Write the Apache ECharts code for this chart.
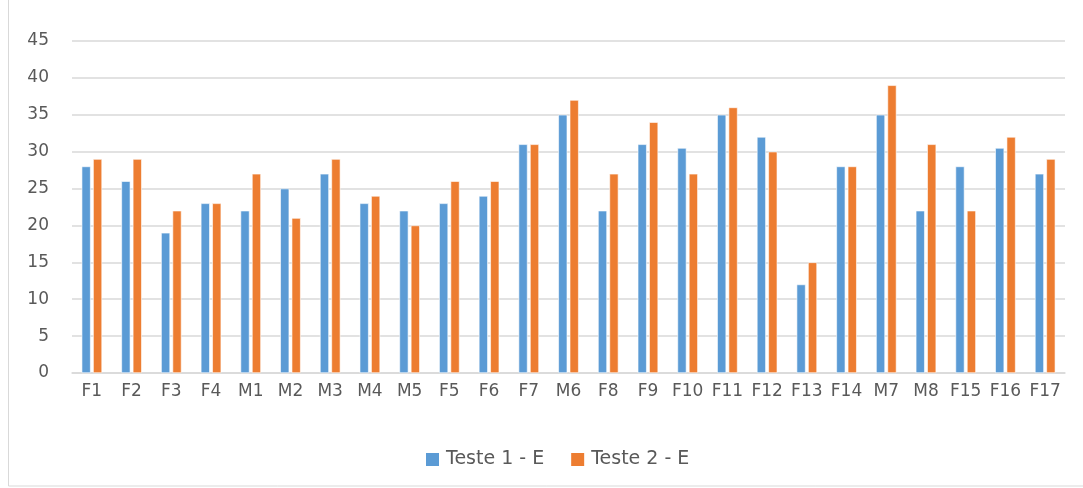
<!DOCTYPE html>
<html>
<head>
<meta charset="utf-8">
<script src="https://cdn.jsdelivr.net/npm/echarts@6/dist/echarts.min.js"></script>
<style>
  html, body { margin: 0; padding: 0; background: #fff; }
  #chart { width: 1083px; height: 488px; }
</style>
</head>
<body>
<div id="chart"></div>
<script>
// Participants on the category axis
const categories = ['F1','F2','F3','F4','M1','M2','M3','M4','M5','F5','F6','F7','M6','F8','F9','F10','F11','F12','F13','F14','M7','M8','F15','F16','F17'];
// Scores per test
const teste1 = [28,26,19,23,22,25,27,23,22,23,24,31,35,22,31,30.5,35,32,12,28,35,22,28,30.5,27];
const teste2 = [29,29,22,23,27,21,29,24,20,26,26,31,37,27,34,27,36,30,15,28,39,31,22,32,29];
// Value axis range
const yMin = 0, yMax = 45, yStep = 5;

const FONT = '"DejaVu Sans", sans-serif';
const TEXT = '#595959';

const chart = echarts.init(document.getElementById('chart'), null, { renderer: 'canvas' });
chart.setOption({
  animation: false,
  backgroundColor: '#fff',
  graphic: [{
    type: 'rect',
    shape: { x: 8.5, y: -2, width: 1090, height: 488 },
    style: { fill: 'none', stroke: '#d9d9d9', lineWidth: 1 },
    silent: true
  }],
  grid: { left: 72, right: 18, top: 41, bottom: 115, containLabel: false },
  legend: {
    top: 450,
    left: 424,
    padding: 0,
    itemWidth: 15,
    itemHeight: 15,
    itemGap: 25,
    icon: 'rect',
    textStyle: { color: TEXT, fontSize: 19, fontFamily: FONT, padding: [0, 0, 0, 1] },
    data: ['Teste 1 - E', 'Teste 2 - E']
  },
  xAxis: {
    type: 'category',
    data: categories,
    axisLine: { lineStyle: { color: '#d9d9d9', width: 1.5 } },
    axisTick: { show: false },
    axisLabel: { color: TEXT, fontSize: 17, fontFamily: FONT, margin: 10, interval: 0 }
  },
  yAxis: {
    type: 'value',
    min: yMin, max: yMax, interval: yStep,
    axisLine: { show: false },
    axisTick: { show: false },
    splitLine: { lineStyle: { color: '#d9d9d9', width: 1.5 } },
    axisLabel: { color: TEXT, fontSize: 17, fontFamily: FONT, margin: 23 }
  },
  series: [
    {
      name: 'Teste 1 - E', type: 'bar', data: teste1,
      barWidth: 9, barGap: '27%',
      itemStyle: { color: '#5b9bd5', borderColor: '#ffffff', borderWidth: 0.6 }
    },
    {
      name: 'Teste 2 - E', type: 'bar', data: teste2,
      barWidth: 9,
      itemStyle: { color: '#ed7d31', borderColor: '#ffffff', borderWidth: 0.6 }
    }
  ]
});
</script>
</body>
</html>
